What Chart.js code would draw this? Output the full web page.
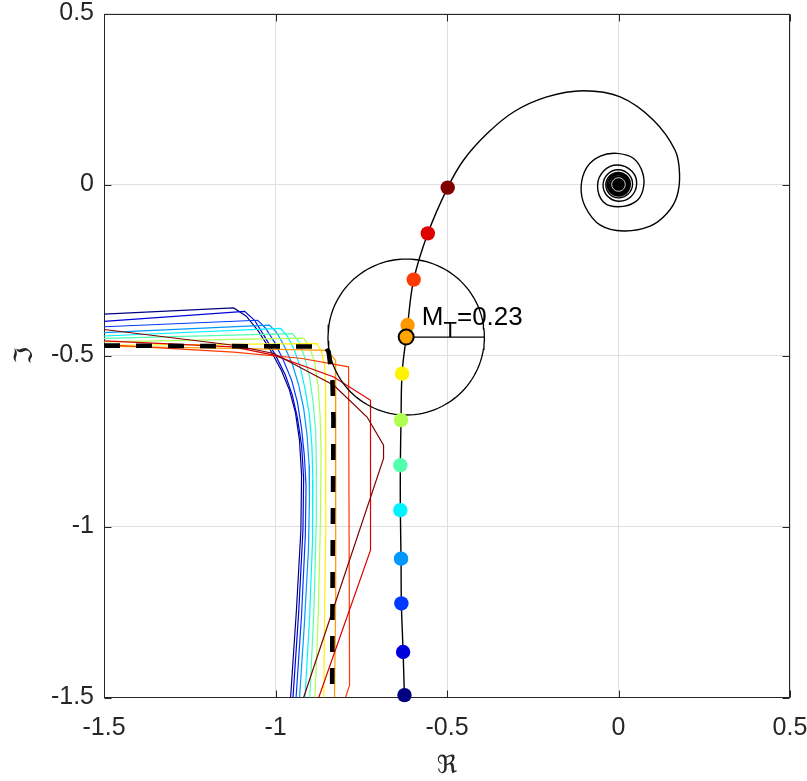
<!DOCTYPE html>
<html><head><meta charset="utf-8">
<script src="https://cdn.jsdelivr.net/npm/chart.js@4.4.1/dist/chart.umd.min.js"></script>
<style>html,body{margin:0;padding:0;background:#fff;}#wrap{width:807px;height:781px;}</style>
</head><body><div id="wrap"><canvas id="c" width="807" height="781"></canvas></div>
<script>
// ---------- data ----------
const xTicks = [-1.5, -1, -0.5, 0, 0.5];
const xTickLabels = ['-1.5', '-1', '-0.5', '0', '0.5'];
const yTicks = [-1.5, -1, -0.5, 0, 0.5];
const yTickLabels = ['-1.5', '-1', '-0.5', '0', '0.5'];

// Nyquist curve (black), [Re, Im]
const nyquistCurve = [
  [-0.624,-1.5],[-0.628,-1.367],[-0.633,-1.225],[-0.634,-1.094],[-0.636,-0.952],[-0.636,-0.821],
  [-0.634,-0.689],[-0.631,-0.553],[-0.619,-0.446],[-0.615,-0.411],[-0.597,-0.278],[-0.556,-0.143],
  [-0.498,-0.009],[-0.452,0.071],[-0.383,0.149],[-0.306,0.212],[-0.209,0.256],[-0.102,0.274],
  [0.005,0.256],[0.102,0.188],[0.165,0.100],[0.178,0.032],[0.170,-0.036],[0.141,-0.085],
  [0.092,-0.122],[0.015,-0.136],[-0.053,-0.119],[-0.097,-0.065],[-0.109,-0.007],[-0.092,0.051],
  [-0.053,0.083],[-0.005,0.091],[0.044,0.076],[0.071,0.032],[0.071,-0.017],[0.049,-0.051],
  [0,-0.065],[-0.044,-0.051],[-0.061,-0.002],
  [-0.042,0.041],[-0.002,0.057],[0.039,0.039],[0.053,0.002],[0.036,-0.036],[0,-0.049],[-0.033,-0.033],[-0.045,0],
  [-0.031,0.031],[0,0.043],[0.0297,0.0297],[0.041,0],[0.028,-0.028],[0,-0.039],[-0.0268,-0.0268],[-0.037,0],
  [-0.0255,0.0255],[0,0.0355],[0.0247,0.0247],[0.0345,0],[0.024,-0.024],[0,-0.0335],[-0.0233,-0.0233],[-0.0325,0],
  [-0.0226,0.0226],[0,0.0315],[0.0219,0.0219],[0.0305,0],[0.0212,-0.0212],[0,-0.0295],[-0.0205,-0.0205],[-0.0287,0],
  [-0.0201,0.0201],[0,0.028],[0.0196,0.0196],[0.0274,0],[0.0191,-0.0191],[0,-0.0267],[-0.0187,-0.0187],[-0.0261,0]
];
const spiralLimit = [[0, 0]];

// frequency markers on the Nyquist curve (bottom to top)
const markerPoints = [
  [-0.624,-1.493],[-0.628,-1.367],[-0.633,-1.225],[-0.634,-1.094],[-0.636,-0.952],[-0.636,-0.821],
  [-0.634,-0.689],[-0.631,-0.553],[-0.615,-0.411],[-0.597,-0.278],[-0.556,-0.143],[-0.498,-0.009]
];

// M_T circle
const mtCenter = [-0.619, -0.446];
const mtRadius = 0.228;
const mtLabelAnchor = [-0.5733, -0.4114];
const mtLabelMain = 'M', mtLabelSub = 'T', mtLabelRest = '=0.23';

// stability boundaries, one per frequency (navy ... dark red)
const boundary0 = [[-1.5,-0.379],[-1.122,-0.361],[-1.085,-0.385],[-1.050,-0.429],[-1.015,-0.484],[-0.983,-0.543],[-0.959,-0.602],[-0.942,-0.666],[-0.930,-0.748],[-0.924,-0.850],[-0.926,-1.011],[-0.939,-1.245],[-0.956,-1.5]];
const boundary1 = [[-1.5,-0.400],[-1.090,-0.371],[-1.061,-0.397],[-1.032,-0.444],[-1.000,-0.499],[-0.971,-0.558],[-0.951,-0.616],[-0.936,-0.683],[-0.924,-0.762],[-0.918,-0.859],[-0.920,-1.011],[-0.932,-1.245],[-0.949,-1.5]];
const boundary2 = [[-1.5,-0.416],[-1.052,-0.397],[-1.029,-0.420],[-1.003,-0.461],[-0.977,-0.514],[-0.953,-0.572],[-0.936,-0.637],[-0.924,-0.713],[-0.916,-0.792],[-0.911,-0.879],[-0.913,-1.025],[-0.924,-1.259],[-0.940,-1.5]];
const boundary3 = [[-1.5,-0.433],[-1.018,-0.411],[-0.997,-0.432],[-0.974,-0.473],[-0.951,-0.525],[-0.933,-0.584],[-0.918,-0.654],[-0.908,-0.733],[-0.902,-0.821],[-0.901,-0.923],[-0.904,-1.069],[-0.916,-1.289],[-0.930,-1.5]];
const boundary4 = [[-1.5,-0.443],[-0.985,-0.421],[-0.965,-0.444],[-0.945,-0.484],[-0.927,-0.537],[-0.913,-0.602],[-0.901,-0.675],[-0.894,-0.762],[-0.891,-0.865],[-0.892,-1.040],[-0.901,-1.274],[-0.914,-1.5]];
const boundary5 = [[-1.5,-0.450],[-0.951,-0.436],[-0.933,-0.458],[-0.916,-0.502],[-0.901,-0.561],[-0.891,-0.631],[-0.883,-0.718],[-0.881,-0.821],[-0.881,-0.982],[-0.888,-1.245],[-0.900,-1.5]];
const boundary6 = [[-1.5,-0.460],[-0.918,-0.449],[-0.901,-0.473],[-0.886,-0.520],[-0.876,-0.587],[-0.870,-0.675],[-0.867,-0.777],[-0.869,-0.982],[-0.875,-1.245],[-0.885,-1.5]];
const boundary7 = [[-1.5,-0.470],[-0.879,-0.465],[-0.866,-0.490],[-0.857,-0.528],[-0.854,-0.587],[-0.853,-0.689],[-0.854,-1.011],[-0.857,-1.245],[-0.859,-1.5]];
const boundary8 = [[-1.5,-0.473],[-1.122,-0.479],[-0.849,-0.485],[-0.825,-0.514],[-0.824,-0.777],[-0.825,-1.216],[-0.828,-1.5]];
const boundary9 = [[-1.5,-0.468],[-1.122,-0.490],[-0.927,-0.508],[-0.787,-0.533],[-0.784,-1.464],[-0.796,-1.5]];
const boundary10 = [[-1.5,-0.457],[-1.122,-0.475],[-1.005,-0.499],[-0.830,-0.563],[-0.723,-0.631],[-0.723,-1.069],[-0.874,-1.5]];
const boundary11 = [[-1.5,-0.424],[-1.122,-0.470],[-1.005,-0.494],[-0.830,-0.587],[-0.733,-0.680],[-0.685,-0.762],[-0.685,-0.801],[-0.918,-1.5]];
const boundaryDashed = [[-1.5,-0.471],[-0.854,-0.474],[-0.845,-0.490],[-0.834,-0.572],[-0.831,-0.689],[-0.833,-1.040],[-0.835,-1.5]];

// ---------- styles ----------
const jetColors = ['#000080','#0000DC','#003AFF','#0097FF','#00F3FF','#51FFAE','#AEFF51','#FFF300','#FF9700','#FF3A00','#DC0000','#800000'];
const FONT = '"Liberation Sans", Arial, Helvetica, "DejaVu Sans", sans-serif';
const FONT_SIZE = 25;
const LABEL_FONT_SIZE = 26;
const AXIS_COLOR = '#262626';

const toPts = arr => arr.map(p => ({x: p[0], y: p[1]}));
const boundaries = [boundary0,boundary1,boundary2,boundary3,boundary4,boundary5,boundary6,boundary7,boundary8,boundary9,boundary10,boundary11];

const circlePts = [];
for (let k = 0; k <= 120; k++) {
  const a = 2 * Math.PI * k / 120;
  circlePts.push({x: mtCenter[0] + mtRadius * Math.cos(a), y: mtCenter[1] + mtRadius * Math.sin(a)});
}
const radiusPts = [{x: mtCenter[0], y: mtCenter[1]}, {x: mtCenter[0] + mtRadius, y: mtCenter[1]}];

const datasets = [];
boundaries.forEach((b, i) => datasets.push({
  data: toPts(b), showLine: true, borderColor: jetColors[i], borderWidth: 1.2,
  pointRadius: 0, tension: 0, order: 100 - i
}));
datasets.push({data: toPts(boundaryDashed), showLine: true, borderColor: '#000', borderWidth: 4.6,
  borderDash: [16, 16], borderCapStyle: 'butt', pointRadius: 0, order: 60});
datasets.push({data: circlePts, showLine: true, borderColor: '#000', borderWidth: 1.3, pointRadius: 0, order: 50});
datasets.push({data: radiusPts, showLine: true, borderColor: '#000', borderWidth: 1.3, pointRadius: 0, order: 50});
datasets.push({data: toPts(nyquistCurve), showLine: true, borderColor: '#000', borderWidth: 1.4,
  pointRadius: 0, tension: 0.375, order: 40});
datasets.push({data: toPts(spiralLimit), showLine: false, pointRadius: 9.3, pointBackgroundColor: '#000',
  pointBorderWidth: 0, order: 36, clip: false});
datasets.push({data: toPts(spiralLimit), showLine: false, pointRadius: 6.8, pointBackgroundColor: '#000',
  pointBorderColor: '#fff', pointBorderWidth: 0.8, order: 35, clip: false});
datasets.push({data: toPts(markerPoints), showLine: false, pointRadius: 7.2, pointBackgroundColor: jetColors,
  pointBorderWidth: 0, order: 20, clip: false});
datasets.push({data: [{x: mtCenter[0], y: mtCenter[1]}], showLine: false, pointRadius: 7.5,
  pointBackgroundColor: '#FFA500', pointBorderColor: '#000', pointBorderWidth: 2, order: 10, clip: false});

const framePlugin = {
  id: 'frame',
  beforeDatasetsDraw(chart) {
    const {ctx, chartArea: {left, right, top, bottom}, scales: {x, y}} = chart;
    ctx.save();
    ctx.strokeStyle = AXIS_COLOR;
    ctx.lineWidth = 1;
    const L = Math.round(left) + 0.5, R = Math.round(right) - 0.5, T = Math.round(top) + 0.5, B = Math.round(bottom) - 0.5;
    ctx.strokeRect(L, T, R - L, B - T);
    const tl = 7;
    ctx.beginPath();
    xTicks.forEach(v => {
      const px = Math.round(x.getPixelForValue(v)) + 0.5;
      ctx.moveTo(px, B); ctx.lineTo(px, B - tl);
      ctx.moveTo(px, T); ctx.lineTo(px, T + tl);
    });
    yTicks.forEach(v => {
      const py = Math.round(y.getPixelForValue(v)) + 0.5;
      ctx.moveTo(L, py); ctx.lineTo(L + tl, py);
      ctx.moveTo(R, py); ctx.lineTo(R - tl, py);
    });
    ctx.stroke();
    ctx.restore();
  },
  afterDatasetsDraw(chart) {
    const {ctx, scales: {x, y}} = chart;
    ctx.save();
    ctx.fillStyle = '#000';
    ctx.textBaseline = 'alphabetic';
    ctx.textAlign = 'left';
    let px = x.getPixelForValue(mtLabelAnchor[0]);
    const py = y.getPixelForValue(mtLabelAnchor[1]);
    ctx.font = LABEL_FONT_SIZE + 'px ' + FONT;
    ctx.fillText(mtLabelMain, px, py);
    px += ctx.measureText(mtLabelMain).width;
    ctx.font = 22 + 'px ' + FONT;
    ctx.fillText(mtLabelSub, px, py + 11.5);
    px += ctx.measureText(mtLabelSub).width;
    ctx.font = LABEL_FONT_SIZE + 'px ' + FONT;
    ctx.fillText(mtLabelRest, px, py);
    ctx.restore();
  }
};

new Chart(document.getElementById('c'), {
  type: 'scatter',
  data: {datasets},
  options: {
    responsive: false,
    animation: false,
    events: [],
    layout: {padding: {left: 0, right: 17, top: 13.5, bottom: 0}},
    plugins: {legend: {display: false}, tooltip: {enabled: false}},
    scales: {
      x: {
        type: 'linear', min: -1.5, max: 0.5,
        afterBuildTicks: a => { a.ticks = xTicks.map(v => ({value: v})); },
        afterFit: s => { s.height = 781 - 697.5; s.paddingLeft = 0; s.paddingRight = 0; },
        ticks: {
          callback: v => xTickLabels[xTicks.indexOf(v)] ?? '',
          font: {family: FONT, size: FONT_SIZE}, color: AXIS_COLOR, padding: 16, maxRotation: 0, autoSkip: false
        },
        grid: {color: '#DFDFDF', lineWidth: 1, drawTicks: false},
        border: {display: false},
        title: {display: true, text: 'ℜ', font: {family: FONT, size: FONT_SIZE}, color: AXIS_COLOR, padding: {top: 0, bottom: 0}}
      },
      y: {
        type: 'linear', min: -1.5, max: 0.5,
        afterBuildTicks: a => { a.ticks = yTicks.map(v => ({value: v})); },
        afterFit: s => { s.width = 104; s.paddingTop = 0; s.paddingBottom = 0; },
        ticks: {
          callback: v => yTickLabels[yTicks.indexOf(v)] ?? '',
          font: {family: FONT, size: FONT_SIZE}, color: AXIS_COLOR, padding: 10, autoSkip: false
        },
        grid: {color: '#DFDFDF', lineWidth: 1, drawTicks: false},
        border: {display: false},
        title: {display: true, text: 'ℑ', font: {family: FONT, size: FONT_SIZE}, color: AXIS_COLOR, padding: {top: 10, bottom: 0}}
      }
    }
  },
  plugins: [framePlugin]
});
</script></body></html>
